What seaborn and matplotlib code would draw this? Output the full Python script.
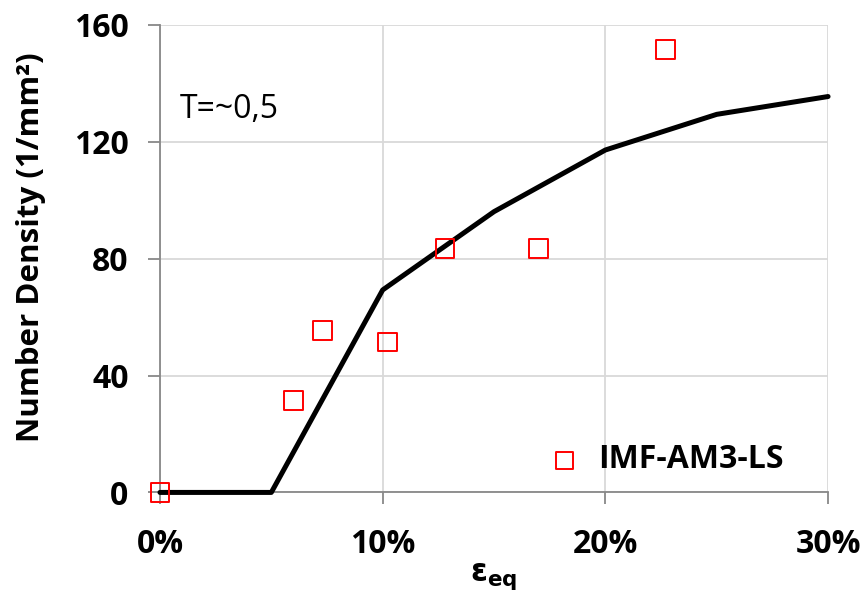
import pandas as pd
import matplotlib
matplotlib.use("Agg")
import matplotlib.pyplot as plt
import seaborn as sns
from matplotlib.ticker import PercentFormatter

# model curve
model_strain = [0.0, 0.05, 0.10, 0.15, 0.20, 0.25, 0.30]
model_density = [0.0, 0.0, 69.3, 96.1, 117.2, 129.4, 135.5]

# measured points
meas_strain = [0.0, 0.060, 0.073, 0.102, 0.128, 0.170, 0.227]
meas_density = [0.0, 31.4, 55.4, 51.5, 83.6, 83.6, 151.7]
series_label = "IMF-AM3-LS"

x_ticks = [0.0, 0.10, 0.20, 0.30]
y_ticks = [0, 40, 80, 120, 160]

sns.set_style("white")
plt.rcParams['font.family'] = ['Open Sans', 'DejaVu Sans']
plt.rcParams['mathtext.fontset'] = 'dejavusans'
plt.rcParams['text.color'] = 'black'
plt.rcParams['axes.labelcolor'] = 'black'
plt.rcParams['xtick.labelcolor'] = 'black'
plt.rcParams['ytick.labelcolor'] = 'black'

fig, ax = plt.subplots(figsize=(8.68, 5.94), dpi=100)
fig.subplots_adjust(left=0.1843, right=0.954, bottom=0.171, top=0.958)

model = pd.DataFrame({"strain": model_strain, "density": model_density})
meas = pd.DataFrame({"strain": meas_strain, "density": meas_density})

sns.lineplot(data=model, x="strain", y="density", color="black", linewidth=3.6,
             ax=ax, zorder=3, clip_on=False)
sns.scatterplot(data=meas, x="strain", y="density", marker="s", s=185,
                facecolor="none", edgecolor="#ff0000", linewidth=1.4,
                ax=ax, zorder=4, clip_on=False, label=series_label)

ax.set_xlim(0, 0.30)
ax.set_ylim(0, 160)
ax.set_xticks(x_ticks)
ax.set_yticks(y_ticks)
ax.xaxis.set_major_formatter(PercentFormatter(xmax=1, decimals=0))

ax.grid(True, color="#d9d9d9", linewidth=1.3)
ax.set_axisbelow(True)
for side in ["top", "right"]:
    ax.spines[side].set_visible(False)
for side in ["left", "bottom"]:
    ax.spines[side].set_color("#888888")
    ax.spines[side].set_linewidth(1.3)

ax.tick_params(axis="both", direction="out", length=8.6, width=1.3,
               color="#888888", labelsize=23, bottom=True, left=True)
ax.tick_params(axis="x", pad=17)
ax.tick_params(axis="y", pad=14)
for lbl in ax.get_xticklabels() + ax.get_yticklabels():
    lbl.set_fontweight("bold")

ax.set_ylabel("Number Density (1/mm²)", fontsize=22.5, fontweight="bold")
ax.yaxis.set_label_coords(-0.170, 0.525)
ax.set_xlabel(r"$\mathbf{\varepsilon}_{\mathbf{eq}}$", fontsize=22, labelpad=0)

ax.text(0.03, 0.82, "T=~0,5", transform=ax.transAxes, fontsize=23,
        ha="left", va="center")

leg = ax.legend(loc="center left", bbox_to_anchor=(0.563, 0.0695), frameon=False,
                fontsize=23, handlelength=1.0, handletextpad=0.53,
                borderpad=0.4, borderaxespad=0, markerscale=0.9)
for t in leg.get_texts():
    t.set_fontweight("bold")

fig.savefig("out.png", dpi=100)
